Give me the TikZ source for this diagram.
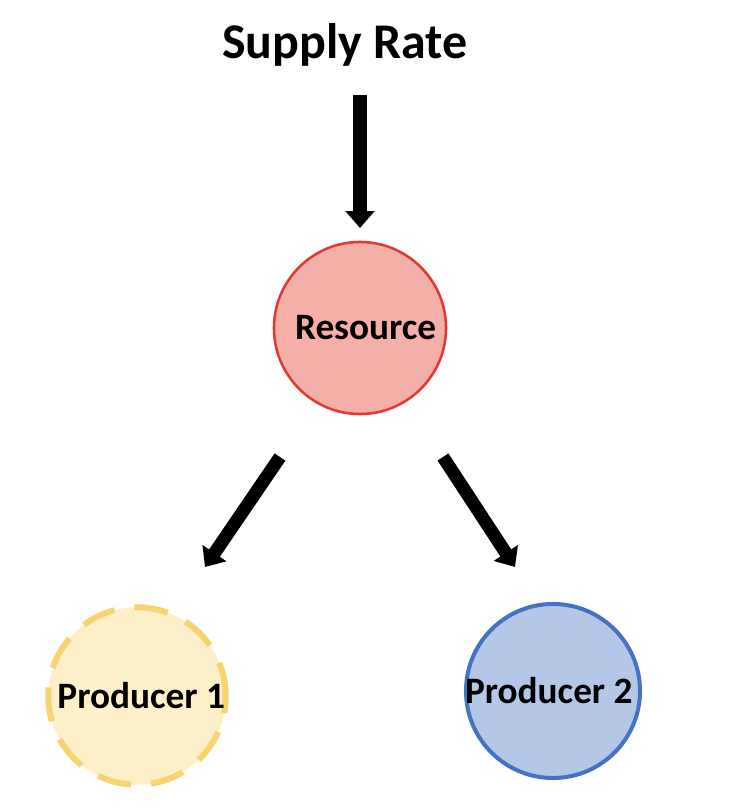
\documentclass[tikz,border=0pt]{standalone}
\usepackage{fontspec}
\setmainfont{Carlito}
\usetikzlibrary{arrows.meta}

\definecolor{resfill}{HTML}{F4AFA9}
\definecolor{resline}{HTML}{E8382E}
\definecolor{onefill}{HTML}{FDEFC8}
\definecolor{oneline}{HTML}{F7D46F}
\definecolor{twofill}{HTML}{B4C7E7}
\definecolor{twoline}{HTML}{4472C4}

\begin{document}
\begin{tikzpicture}[x=0.025cm, y=0.025cm,
    blob/.style={circle, inner sep=0pt, font=\fontsize{26.5}{29}\selectfont\bfseries},
    flow/.style={line width=0.325cm, -{Triangle[width=0.7cm, length=0.42cm]}}]
    \useasboundingbox (0,0) rectangle (730,812);

    \node[font=\fontsize{35.5}{40}\selectfont\bfseries] (rate) at (345,767) {Supply Rate};
    \node[blob, draw=resline, fill=resfill, line width=1.8pt, minimum size=4.3cm] (res) at (360,484) {\hspace{8pt}Resource};
    \node[blob, draw=oneline, fill=onefill, line width=0.15cm, dash pattern=on 0.85cm off 0.5cm, minimum size=4.4cm] (p1) at (137,116) {\raisebox{-5pt}{\hspace{6pt}Producer 1}};
    \node[blob, draw=twoline, fill=twofill, line width=0.1cm, minimum size=4.35cm] (p2) at (553,121) {\hspace{-6pt}Producer 2};

    \draw[flow] ([shift={(0,233)}]res.center) -- ([shift={(0,100)}]res.center);
    \draw[flow] ([shift={(-80,-129)}]res.center) -- ([shift={(68,129)}]p1.center);
    \draw[flow] ([shift={(83,-129)}]res.center) -- ([shift={(-38,124)}]p2.center);
\end{tikzpicture}
\end{document}
